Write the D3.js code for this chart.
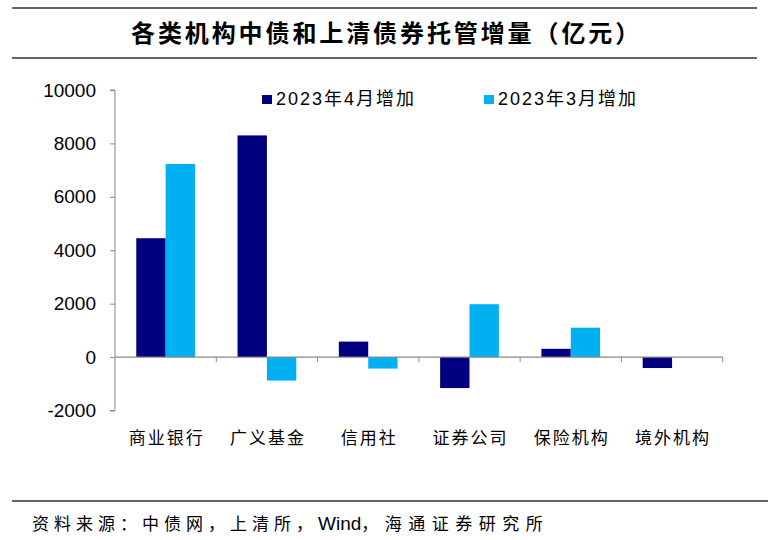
<!DOCTYPE html>
<html><head><meta charset="utf-8">
<script src="https://cdn.jsdelivr.net/npm/d3@7"></script>
<style>body{margin:0;background:#fff}svg{display:block}</style>
</head><body>
<svg id="c" width="768" height="540"></svg>
<script>
const categories = ["商业银行","广义基金","信用社","证券公司","保险机构","境外机构"];
const seriesNames = ["2023年4月增加","2023年3月增加"];
const aprValues = [4450, 8300, 580, -1160, 310, -410];
const marValues = [7230, -880, -430, 1980, 1100, 0];
const yTicks = [-2000, 0, 2000, 4000, 6000, 8000, 10000];
const colors = ["#000080", "#00B0F0"];
const title = "各类机构中债和上清债券托管增量（亿元）";
const source = "资料来源：中债网，上清所，Wind，海通证券研究所";

(function(){
const svg = d3.select("#c");
const cjk = "'Noto Sans CJK SC', sans-serif";
const lat = "'Liberation Sans', Arial, sans-serif";

svg.append("line").attr("x1",12).attr("x2",757).attr("y1",8).attr("y2",8).attr("stroke","#333").attr("stroke-width",1.5);
svg.append("line").attr("x1",12).attr("x2",757).attr("y1",58).attr("y2",58).attr("stroke","#333").attr("stroke-width",1.5);
svg.append("text").attr("x",131).attr("y",42)
  .attr("font-family",cjk).attr("font-weight","bold").attr("font-size",24).attr("letter-spacing",2.9).attr("fill","#000").text(title);
svg.append("line").attr("x1",12).attr("x2",768).attr("y1",501).attr("y2",501).attr("stroke","#333").attr("stroke-width",1.5);
const src = svg.append("text").attr("x",32).attr("y",530).attr("font-size",17).attr("fill","#000");
const sp = source.split("Wind");
src.append("tspan").attr("font-family",cjk).attr("letter-spacing",5).text(sp[0]);
src.append("tspan").attr("font-family",lat).attr("font-size",19).attr("letter-spacing",0).text("Wind");
src.append("tspan").attr("font-family",cjk).attr("letter-spacing",6.5).text(sp[1]);

const mLeft = 115, mRight = 722.7, mTop = 90, mBottom = 410.5;
const y = d3.scaleLinear().domain([-2000, 10000]).range([mBottom, mTop]);
const x0 = d3.scaleBand().domain(categories).range([mLeft, mRight]).paddingInner(0).paddingOuter(0);
const x1 = d3.scaleBand().domain(seriesNames).range([x0.bandwidth()*0.21, x0.bandwidth()*0.79]);

const data = categories.map((c,i)=>({cat:c, vals:[aprValues[i], marValues[i]]}));
const g = svg.append("g");
const groups = g.selectAll("g.cat").data(data).join("g").attr("transform",d=>`translate(${x0(d.cat)},0)`);
groups.selectAll("rect").data(d=>d.vals.map((v,j)=>({v, s:seriesNames[j], j})))
  .join("rect")
  .attr("x",d=>x1(d.s)).attr("width",x1.bandwidth())
  .attr("y",d=>y(Math.max(0,d.v))).attr("height",d=>Math.abs(y(d.v)-y(0)))
  .attr("fill",d=>colors[d.j]);

const yAxis = d3.axisLeft(y).tickValues(yTicks).tickSize(5).tickPadding(14).tickFormat(d=>String(d));
const ya = svg.append("g").attr("transform",`translate(${mLeft},0)`).call(yAxis);
ya.select(".domain").attr("stroke","#888").attr("d",`M-5,${y(10000)}H0V${y(-2000)}H-5`);
ya.selectAll(".tick line").attr("stroke","#888");
ya.selectAll(".tick text").attr("font-family",lat).attr("font-size",19).attr("fill","#000");

const xa = svg.append("g").attr("transform",`translate(0,${y(0)})`);
xa.append("line").attr("x1",mLeft).attr("x2",mRight).attr("y1",0).attr("y2",0).attr("stroke","#888").attr("stroke-width",1.3);
xa.selectAll("line.tk").data(categories).join("line").attr("class","tk")
  .attr("x1",d=>x0(d)+x0.bandwidth()).attr("x2",d=>x0(d)+x0.bandwidth()).attr("y1",0).attr("y2",5).attr("stroke","#888");
svg.selectAll("text.cat").data(categories).join("text").attr("class","cat")
  .attr("x",d=>x0(d)+x0.bandwidth()/2+1).attr("y",444).attr("text-anchor","middle")
  .attr("font-family",cjk).attr("font-size",17).attr("letter-spacing",2).attr("fill","#000").text(d=>d);

const legX = [262, 484];
seriesNames.forEach((s,i)=>{
  svg.append("rect").attr("x",legX[i]).attr("y",95).attr("width",10).attr("height",9).attr("fill",colors[i]);
  const t = svg.append("text").attr("x",legX[i]+14).attr("y",105).attr("font-size",18).attr("letter-spacing",2).attr("fill","#000");
  const m = s.match(/^(\d+)年(\d+)月(.*)$/);
  t.append("tspan").attr("font-family",lat).text(m[1]);
  t.append("tspan").attr("font-family",cjk).text("年");
  t.append("tspan").attr("font-family",lat).text(m[2]);
  t.append("tspan").attr("font-family",cjk).text("月"+m[3]);
});
})();
</script>
</body></html>
